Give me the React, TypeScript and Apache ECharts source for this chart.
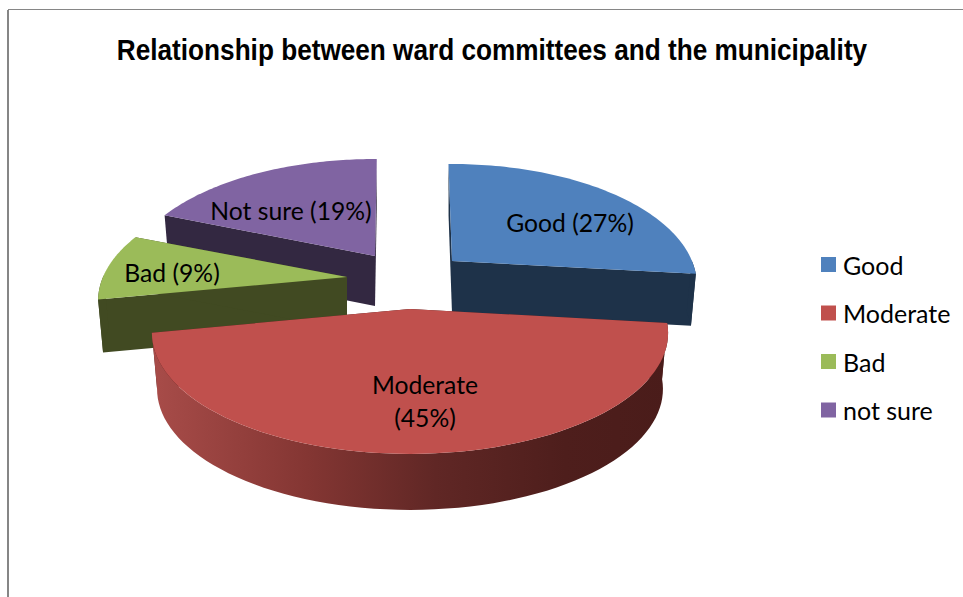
import React, { useEffect, useRef } from "react";
import * as echarts from "echarts";

const chartTitle = "Relationship between ward committees and the municipality";
const categories = ["Good", "Moderate", "Bad", "not sure"];
const sliceLabels = ["Good (27%)", "Moderate\n(45%)", "Bad (9%)", "Not sure (19%)"];
const values = [27, 45, 9, 19];
const colors = ["#4f81bd", "#c0504d", "#9bbb59", "#8064a2"];
const cutColors = ["#1e3249", "#4a1c1a", "#414a22", "#332841"];

// Drawing set-up of the exploded perspective pie
const layouts = [
  { cx: 452, cy: 261, r: 240, depth: 52, z: 4, rot: 1, lx: 570, ly: 222.5 },
  { cx: 410, cy: 309, r: 253, depth: 56, z: 5, rot: 1.5, lx: 425, ly: 401 },
  { cx: 347, cy: 277, r: 244, depth: 53, z: 3, rot: 2, lx: 172, ly: 272.5 },
  { cx: 375, cy: 256, r: 244, depth: 50, z: 2, rot: 2.5, lx: 291, ly: 210 },
];
const START_DEG = -2;
const K = 116.2;
const P = 0.198;
const BOTTOM_SCALE = 0.98;
const FONT = "Lato, Carlito, 'Noto Sans', sans-serif";

const total = values.reduce((a, b) => a + b, 0);

function project(cx: number, cy: number, r: number, deg: number) {
  const t = (deg * Math.PI) / 180;
  const c = Math.cos(t);
  const s = 1 / (1 + P * c);
  return [cx + r * Math.sin(t) * s, cy - K * c * s];
}

function renderSlice(index: number) {
  return (_params: any, api: any) => {
    const value = api.value(0);
    const { cx, cy, r, depth, rot, lx, ly } = layouts[index];
    const before = values.slice(0, index).reduce((a, b) => a + b, 0);
    const a0 = START_DEG + rot + (before / total) * 360;
    const a1 = a0 + (value / total) * 360;
    const bottom = (p: number[]) => [cx + (p[0] - cx) * BOTTOM_SCALE, p[1] + depth];
    const steps = 72;
    const arc: number[][] = [];
    for (let i = 0; i <= steps; i++) {
      arc.push(project(cx, cy, r, a0 + ((a1 - a0) * i) / steps));
    }
    const apex = [cx, cy];
    const apexB = [cx, cy + depth];
    const front: number[][] = [];
    for (let i = 0; i <= steps; i++) {
      const d = a0 + ((a1 - a0) * i) / steps;
      if (Math.cos((d * Math.PI) / 180) < 0.02) front.push(arc[i]);
    }
    const children: any[] = [];
    const cut = cutColors[index];
    const poly = (points: number[][], fill: any) => ({
      type: "polygon",
      shape: { points },
      style: { fill, stroke: "none" },
      silent: true,
    });
    children.push(poly([apex, arc[0], bottom(arc[0]), apexB], cut));
    children.push(poly([apex, arc[steps], bottom(arc[steps]), apexB], cut));
    if (front.length > 1) {
      const wall = front.concat(front.slice().reverse().map(bottom));
      const fill =
        index === 1
          ? new echarts.graphic.LinearGradient(0, 0, 1, 0, [
              { offset: 0, color: "#a84c49" },
              { offset: 0.3, color: "#843633" },
              { offset: 0.55, color: "#602725" },
              { offset: 0.8, color: "#4e1e1c" },
              { offset: 1, color: "#4a1c1a" },
            ])
          : cut;
      children.push(poly(wall, fill));
    }
    children.push(poly([apex].concat(arc), colors[index]));
    children.push({
      type: "text",
      x: lx,
      y: ly,
      silent: true,
      style: {
        text: sliceLabels[index],
        fill: "#000000",
        fontFamily: FONT,
        fontSize: 24.7,
        lineHeight: 33,
        align: "center",
        verticalAlign: "middle",
      },
    });
    return { type: "group", children };
  };
}

export default function App() {
  const ref = useRef<HTMLDivElement>(null);
  useEffect(() => {
    document.body.style.margin = "0";
    const chart = echarts.init(ref.current!, undefined, { renderer: "svg" });
    chart.setOption({
      animation: false,
      backgroundColor: "#ffffff",
      legend: {
        orient: "vertical",
        left: 821,
        top: 252,
        padding: 0,
        icon: "rect",
        itemWidth: 15,
        itemHeight: 15,
        itemGap: 23.5,
        selectedMode: false,
        data: categories,
        textStyle: {
          fontFamily: FONT,
          fontSize: 25,
          lineHeight: 15,
          color: "#000000",
          padding: [0, 0, 0, 2],
        },
      },
      graphic: [
        { type: "line", silent: true, shape: { x1: 8, y1: 10, x2: 8, y2: 597 }, style: { stroke: "#868686", lineWidth: 2 } },
        { type: "line", silent: true, shape: { x1: 8, y1: 9.5, x2: 963, y2: 9.5 }, style: { stroke: "#868686", lineWidth: 1 } },
        {
          type: "text",
          silent: true,
          x: 492,
          y: 50,
          scaleX: 0.903,
          style: {
            text: chartTitle,
            fill: "#000000",
            fontFamily: "'Liberation Sans', Arial, sans-serif",
            fontWeight: "bold",
            fontSize: 29,
            align: "center",
            verticalAlign: "middle",
          },
        },
      ],
      series: categories.map((name, i) => ({
        type: "custom",
        name,
        coordinateSystem: "none",
        z: layouts[i].z,
        silent: true,
        itemStyle: { color: colors[i] },
        data: [[values[i]]],
        renderItem: renderSlice(i),
      })),
    });
    return () => chart.dispose();
  }, []);
  return <div ref={ref} style={{ width: 963, height: 597 }} />;
}
